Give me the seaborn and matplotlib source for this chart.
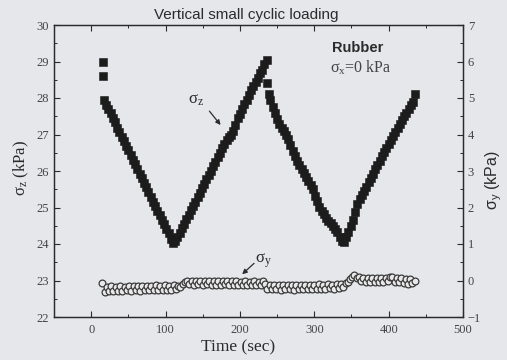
import numpy as np
import pandas as pd
import matplotlib
matplotlib.use("Agg")
import matplotlib.pyplot as plt
import seaborn as sns
from matplotlib.ticker import MultipleLocator

# ---------------- data ----------------
sz_time = [16, 16,
           17, 20, 23, 26, 29, 32, 35, 38, 41, 44, 47, 50, 53, 56, 59, 62, 65, 68,
           71, 74, 77, 80, 83, 86, 89, 92, 95, 98, 101, 104, 107, 110,
           113, 116, 119, 122, 125, 128, 131, 134, 137, 140, 143, 146, 149, 152,
           155, 158, 161, 164, 167, 170, 173, 176, 179, 182, 185, 188, 191, 194,
           197, 200, 203, 206, 209, 212, 215, 218, 221, 224, 227, 230, 233, 236,
           237, 239, 241, 244, 247, 250, 253, 256, 259, 262, 265, 268, 271, 274,
           277, 280, 283, 286, 289, 292, 295, 298, 301, 304, 307, 310, 313, 316,
           319, 322, 325, 328, 331, 334, 337, 340,
           343, 346, 349, 352, 355, 358, 361, 364, 367, 370, 373, 376, 379, 382,
           385, 388, 391, 394, 397, 400, 403, 406, 409, 412, 415, 418, 421, 424,
           427, 430, 433, 436]
sz_value = [29.00, 28.60,
            27.95, 27.82, 27.70, 27.58, 27.44, 27.33, 27.19, 27.07, 26.94, 26.82,
            26.68, 26.57, 26.43, 26.31, 26.18, 26.06, 25.92, 25.81, 25.67, 25.55,
            25.42, 25.30, 25.16, 25.05, 24.91, 24.79, 24.66, 24.54, 24.40, 24.29,
            24.15, 24.04,
            24.07, 24.19, 24.31, 24.44, 24.56, 24.68, 24.80, 24.92, 25.04, 25.16,
            25.29, 25.41, 25.53, 25.65, 25.77, 25.89, 26.01, 26.13, 26.26, 26.38,
            26.50, 26.62, 26.74, 26.86, 26.93, 27.00, 27.10, 27.26, 27.44, 27.57,
            27.71, 27.83, 27.95, 28.07, 28.22, 28.32, 28.44, 28.56, 28.68, 28.78,
            28.92, 29.05,
            28.40, 28.12, 27.95, 27.76, 27.58, 27.42, 27.30, 27.18, 27.10, 27.00,
            26.88, 26.72, 26.56, 26.42, 26.28, 26.16, 26.05, 25.95, 25.83, 25.72,
            25.62, 25.50, 25.32, 25.17, 25.02, 24.90, 24.81, 24.72, 24.64, 24.57,
            24.50, 24.42, 24.32, 24.20, 24.08, 24.05,
            24.18, 24.32, 24.50, 24.66, 24.88, 25.10, 25.22, 25.33, 25.45, 25.57,
            25.70, 25.82, 25.93, 26.05, 26.17, 26.28, 26.40, 26.52, 26.63, 26.74,
            26.85, 26.95, 27.06, 27.18, 27.30, 27.40, 27.50, 27.60, 27.70, 27.82,
            27.88, 28.10]

sy_time = [15, 18, 21, 24, 27, 30, 33, 36, 39, 42, 45, 48, 51, 54, 57, 60, 63, 66,
           69, 72, 75, 78, 81, 84, 87, 90, 93, 96, 99, 102, 105, 108, 111, 114,
           117, 120, 123,
           126, 129, 132, 135, 138, 141, 144, 147, 150, 153, 156, 159, 162, 165,
           168, 171, 174, 177, 180, 183, 186, 189, 192, 195, 198, 201, 204, 207,
           210, 213, 216, 219, 222, 225, 228, 231,
           234, 237, 240, 243, 246, 249, 252, 255, 258, 261, 264, 267, 270, 273,
           276, 279, 282, 285, 288, 291, 294, 297, 300, 303, 306, 309, 312, 315,
           318, 321, 324, 327, 330, 333, 336, 339, 342, 345,
           348, 351, 354, 357, 360, 363, 366, 369, 372, 375, 378, 381, 384, 387,
           390, 393, 396, 399, 402, 405, 408, 411, 414, 417, 420, 423, 426, 429,
           432, 435]
sy_value = [-0.08, -0.32, -0.18, -0.30, -0.16, -0.29, -0.17, -0.28, -0.15, -0.29,
            -0.17, -0.27, -0.14, -0.28, -0.16, -0.27, -0.15, -0.28, -0.16, -0.26,
            -0.14, -0.27, -0.15, -0.26, -0.13, -0.26, -0.15, -0.25, -0.12, -0.25,
            -0.14, -0.26, -0.13, -0.24, -0.14, -0.18, -0.10,
            -0.05, 0.00, -0.10, -0.01, -0.11, 0.00, -0.10, -0.01, -0.11, 0.00,
            -0.10, -0.02, -0.12, -0.01, -0.11, -0.02, -0.12, -0.01, -0.10, -0.02,
            -0.12, -0.01, -0.11, -0.02, -0.12, -0.03, -0.12, -0.02, -0.11, -0.03,
            -0.13, -0.02, -0.12, -0.03, -0.12, 0.00,
            -0.10, -0.24, -0.12, -0.24, -0.11, -0.23, -0.12, -0.25, -0.13, -0.24,
            -0.11, -0.23, -0.13, -0.25, -0.12, -0.23, -0.11, -0.24, -0.13, -0.23,
            -0.11, -0.24, -0.12, -0.22, -0.10, -0.23, -0.12, -0.22, -0.10, -0.21,
            -0.11, -0.22, -0.09, -0.20, -0.10, -0.19, -0.08, -0.05,
            0.03, 0.09, 0.14, 0.06, 0.10, -0.01, 0.08, -0.03, 0.07, -0.04, 0.08,
            -0.03, 0.07, -0.04, 0.08, -0.03, 0.07, -0.02, 0.09, 0.10, -0.03, 0.07,
            -0.05, 0.06, -0.06, 0.05, -0.09, 0.04, -0.07, -0.02]

x_ticks = [0, 100, 200, 300, 400, 500]
left_ticks = [22, 23, 24, 25, 26, 27, 28, 29, 30]
right_ticks = [-1, 0, 1, 2, 3, 4, 5, 6, 7]

title_text = "Vertical small cyclic loading"
x_label = "Time (sec)"

# ---------------- styling ----------------
sns.set_theme(style="ticks")
bg = "#e5e7ea"
ink = "#2b2b2b"
serif = ["Liberation Serif", "DejaVu Serif"]
sans = ["Liberation Sans", "DejaVu Sans"]
plt.rcParams["font.family"] = serif
plt.rcParams["mathtext.fontset"] = "custom"
plt.rcParams["mathtext.rm"] = "Liberation Serif"

fig = plt.figure(figsize=(5.07, 3.60), dpi=100, facecolor=bg)
ax = fig.add_axes([54 / 507, 1 - 317 / 360, (463 - 54) / 507, (317 - 25) / 360])
ax.set_facecolor(bg)

df_z = pd.DataFrame({"t": sz_time, "v": sz_value})
df_y = pd.DataFrame({"t": sy_time, "v": sy_value})

sns.scatterplot(data=df_z, x="t", y="v", marker="s", s=30, color="#1c1c1c",
                edgecolor="#1c1c1c", linewidth=0.4, ax=ax, zorder=3, legend=False)

ax2 = ax.twinx()
sns.scatterplot(data=df_y, x="t", y="v", marker="o", s=24, facecolor="#e9e9e9",
                edgecolor="#3a3a3a", linewidth=0.9, ax=ax2, zorder=3, legend=False)

ax.set_xlim(-50, 500)
ax.set_ylim(22, 30)
ax2.set_ylim(-1, 7)

ax.set_xticks(x_ticks)
ax.set_yticks(left_ticks)
ax2.set_yticks(right_ticks)
ax.xaxis.set_minor_locator(MultipleLocator(50))
ax.yaxis.set_minor_locator(MultipleLocator(0.5))
ax2.yaxis.set_minor_locator(MultipleLocator(0.5))

for a in (ax, ax2):
    a.tick_params(which="major", direction="in", length=4, width=0.8, colors=ink,
                  labelsize=9, top=True)
    a.tick_params(which="minor", direction="in", length=2.5, width=0.7, colors=ink, top=True)
    for s in a.spines.values():
        s.set_color(ink)
        s.set_linewidth(0.9)
ax.tick_params(axis="y", which="both", right=False)
ax2.tick_params(axis="y", which="both", left=False)
ax.tick_params(axis="x", pad=5)

for lab in ax.get_xticklabels() + ax.get_yticklabels() + ax2.get_yticklabels():
    lab.set_color("#444444")

ax.set_xlabel("")
ax.set_ylabel("")
ax2.set_ylabel("")

fig.text(246 / 507, 1 - 15 / 360, title_text, ha="center", va="center",
         fontsize=11, family=sans, color=ink)
fig.text(238 / 507, 1 - 347 / 360, x_label, ha="center", va="center",
         fontsize=12.5, color=ink)
fig.text(21 / 507, 1 - 168 / 360, r"$\mathregular{\sigma_{z}}$ (kPa)", ha="center",
         va="center", rotation=90, fontsize=12, color=ink)
fig.text(494 / 507, 1 - 180 / 360, r"$\mathregular{\sigma_{y}}$ (kPa)", ha="center",
         va="center", rotation=90, fontsize=11.5, color=ink, family=sans)

ax.text(359, 29.38, "Rubber", ha="center", va="center", fontsize=10.5,
        family=sans, weight="bold", color=ink)
ax.text(362, 28.82, r"$\mathregular{\sigma_{x}}$=0 kPa", ha="center", va="center",
        fontsize=11.5, color="#444444")

# sigma_z label and its arrow
ax.text(141, 27.95, r"$\mathregular{\sigma_{z}}$", ha="center", va="center",
        fontsize=12, color=ink)
ax.annotate("", xy=(174, 27.26), xytext=(159, 27.64),
            arrowprops=dict(arrowstyle="-|>", color=ink, lw=0.9,
                            shrinkA=0, shrinkB=0, mutation_scale=7))
# sigma_y label and its arrow
ax2.text(231, 0.55, r"$\mathregular{\sigma_{y}}$", ha="center", va="center",
         fontsize=12, color=ink)
ax2.annotate("", xy=(203, 0.17), xytext=(219, 0.47),
             arrowprops=dict(arrowstyle="-|>", color=ink, lw=0.9,
                             shrinkA=0, shrinkB=0, mutation_scale=7))

fig.savefig("out.png", dpi=100, facecolor=bg)
